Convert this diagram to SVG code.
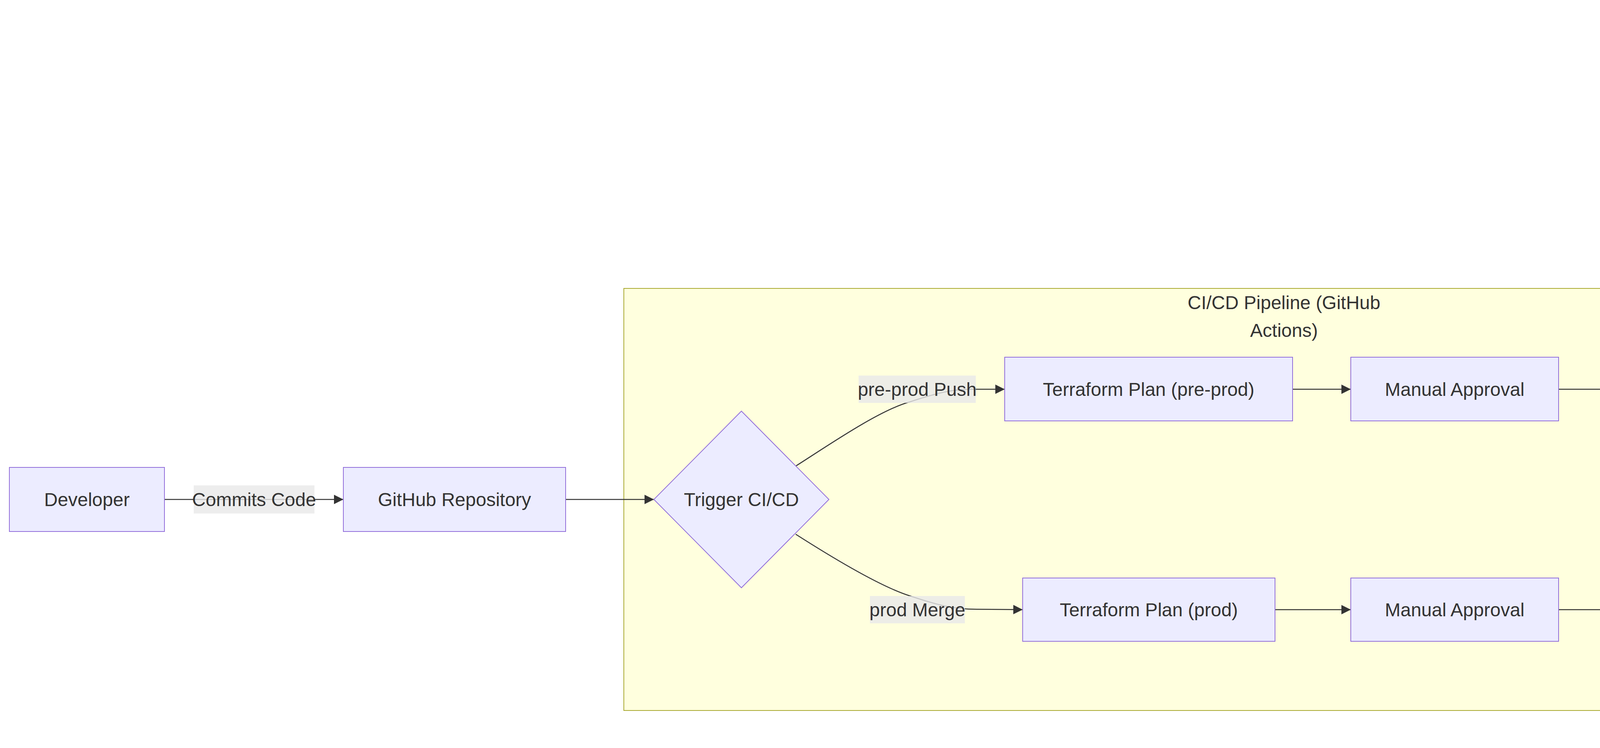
<svg xmlns="http://www.w3.org/2000/svg" width="7741" height="1914" viewBox="0 0 7741 1914">
<style>
  .cluster rect { fill: #ffffde; stroke: #aaaa33; stroke-width: 2; }
  .node rect, .node polygon { fill: #ececff; stroke: #9370db; stroke-width: 2; }
  text { font-family: "Liberation Sans", Arial, sans-serif; font-size: 48px; fill: #333333; text-anchor: middle; dominant-baseline: central; }
  .edge { fill: none; stroke: #333333; stroke-width: 2.5; marker-end: url(#arrow); }
  .lbl rect { fill: #e8e8e8; fill-opacity: 0.8; }
</style>
<defs>
  <marker id="arrow" viewBox="0 0 10 10" refX="10" refY="5" markerUnits="userSpaceOnUse" markerWidth="24" markerHeight="24" orient="auto">
    <path d="M0,0 L10,5 L0,10 z" fill="#333333"/>
  </marker>
</defs>
<rect x="0" y="0" width="7741" height="1914" fill="#ffffff"/>

<g id="clusters">
  <g id="cluster-cicd" class="cluster">
    <rect x="1597" y="738" width="3380" height="1080"/>
    <text x="3287" y="774">CI/CD Pipeline (GitHub</text>
    <text x="3287" y="845">Actions)</text>
  </g>
  <g id="cluster-aws" class="cluster">
    <rect x="5126" y="702" width="905" height="1187"/>
    <text x="5578" y="736">AWS Infrastructure</text>
  </g>
  <g id="cluster-branching" class="cluster">
    <rect x="5127" y="24" width="2587" height="618"/>
    <text x="6420" y="59">Branching &amp; Environments</text>
  </g>
</g>

<g id="connectors">
  <path class="edge" d="M421,1278 L879,1278"/>
  <path class="edge" d="M1448,1278 L1674,1278"/>
  <path class="edge" d="M2038,1192 C2120,1140 2250,1050 2330,1028 C2400,1005 2440,996 2485,996 L2572,996"/>
  <path class="edge" d="M2037,1367 C2120,1420 2250,1500 2330,1525 C2400,1548 2440,1559 2500,1559 L2618,1560"/>
  <path class="edge" d="M3309,996 L3458,996"/>
  <path class="edge" d="M3990,996 L4140,996"/>
  <path class="edge" d="M4902,996 L5243,996"/>
  <path class="edge" d="M3264,1560 L3458,1560"/>
  <path class="edge" d="M3990,1560 L4186,1560"/>
  <path class="edge" d="M4857,1559 L5201,1559"/>
  <path class="edge" d="M5914,996 C5960,996 5995,960 6027,911 C6059,862 6105,730 6130,643 C6150,573 6205,420 6255,366 C6280,337 6340,320 6393,313"/>
  <path class="edge" d="M5956,1559 C5990,1560 6020,1470 6054,1321 C6079,1211 6140,960 6166,875 C6196,777 6270,610 6398,536 C6458,511 6500,502 6560,501 L6951,500 C7050,499 7120,485 7201,457"/>
  <path class="edge" d="M5832,210 L6150,210 C6200,210 6230,214 6260,220 C6300,226 6350,232 6393,240"/>
  <path class="edge" d="M6923,276 L6990,277 C7050,278 7110,290 7201,318"/>
</g>

<g id="edge-labels">
  <g class="lbl" id="lbl-commits"><rect x="496" y="1242" width="309" height="72"/><text x="650.5" y="1278">Commits Code</text></g>
  <g class="lbl" id="lbl-preprod-push"><rect x="2198" y="961" width="300" height="70"/><text x="2348" y="996">pre-prod Push</text></g>
  <g class="lbl" id="lbl-prod-merge"><rect x="2227" y="1525" width="243" height="70"/><text x="2348.5" y="1560">prod Merge</text></g>
  <g class="lbl" id="lbl-pr"><rect x="6184" y="174" width="54" height="71"/><text x="6211" y="209.5">PR</text></g>
  <g class="lbl" id="lbl-validation"><rect x="6105" y="306" width="213" height="71"/><text x="6211.5" y="341.5">Validation</text></g>
  <g class="lbl" id="lbl-merge"><rect x="6998" y="240" width="128" height="71"/><text x="7062" y="275.5">Merge</text></g>
  <g class="lbl" id="lbl-monitoring"><rect x="6545" y="465" width="228" height="71"/><text x="6659" y="500.5">Monitoring</text></g>
</g>

<g id="node-developer" class="node"><rect x="24" y="1196" width="397" height="164"/><text x="222.5" y="1278">Developer</text></g>
<g id="node-github" class="node"><rect x="879" y="1196" width="569" height="164"/><text x="1163.5" y="1278">GitHub Repository</text></g>
<g id="node-trigger" class="node"><polygon points="1898,1052 2122,1278 1898,1504 1674,1278"/><text x="1898" y="1278">Trigger CI/CD</text></g>
<g id="node-plan-preprod" class="node"><rect x="2572" y="914" width="737" height="163"/><text x="2940.5" y="996">Terraform Plan (pre-prod)</text></g>
<g id="node-approval-preprod" class="node"><rect x="3458" y="914" width="532" height="163"/><text x="3724" y="996">Manual Approval</text></g>
<g id="node-apply-preprod" class="node"><rect x="4140" y="914" width="762" height="163"/><text x="4521" y="996">Terraform Apply (pre-prod)</text></g>
<g id="node-plan-prod" class="node"><rect x="2618" y="1479" width="646" height="162"/><text x="2941" y="1560">Terraform Plan (prod)</text></g>
<g id="node-approval-prod" class="node"><rect x="3458" y="1479" width="532" height="162"/><text x="3724" y="1560">Manual Approval</text></g>
<g id="node-apply-prod" class="node"><rect x="4186" y="1479" width="671" height="162"/><text x="4521.5" y="1560">Terraform Apply (prod)</text></g>
<g id="node-env-preprod" class="node"><rect x="5243" y="806" width="671" height="378"/>
  <text x="5578.5" y="887">pre-prod Environment:</text>
  <text x="5578.5" y="959">- 1 VPC</text>
  <text x="5578.5" y="1031">- 1 Public Subnet</text>
  <text x="5578.5" y="1103">- 1 EC2 Instance</text>
</g>
<g id="node-env-prod" class="node"><rect x="5201" y="1334" width="755" height="450"/>
  <text x="5578.5" y="1415">prod Environment:</text>
  <text x="5578.5" y="1487">- 1 VPC</text>
  <text x="5578.5" y="1559">- 2 Public Subnets</text>
  <text x="5578.5" y="1631">- 2 EC2 Instances</text>
  <text x="5578.5" y="1703">- S3 &amp; CloudWatch Logging</text>
</g>
<g id="node-feature" class="node"><rect x="5324" y="128" width="508" height="163"/><text x="5578" y="209.5">Feature Branch</text></g>
<g id="node-preprod-branch" class="node"><rect x="6393" y="194" width="530" height="164"/><text x="6658" y="276">pre-prod Branch</text></g>
<g id="node-prod-branch" class="node"><rect x="7201" y="305" width="439" height="163"/><text x="7420.5" y="386.5">prod Branch</text></g>
</svg>
